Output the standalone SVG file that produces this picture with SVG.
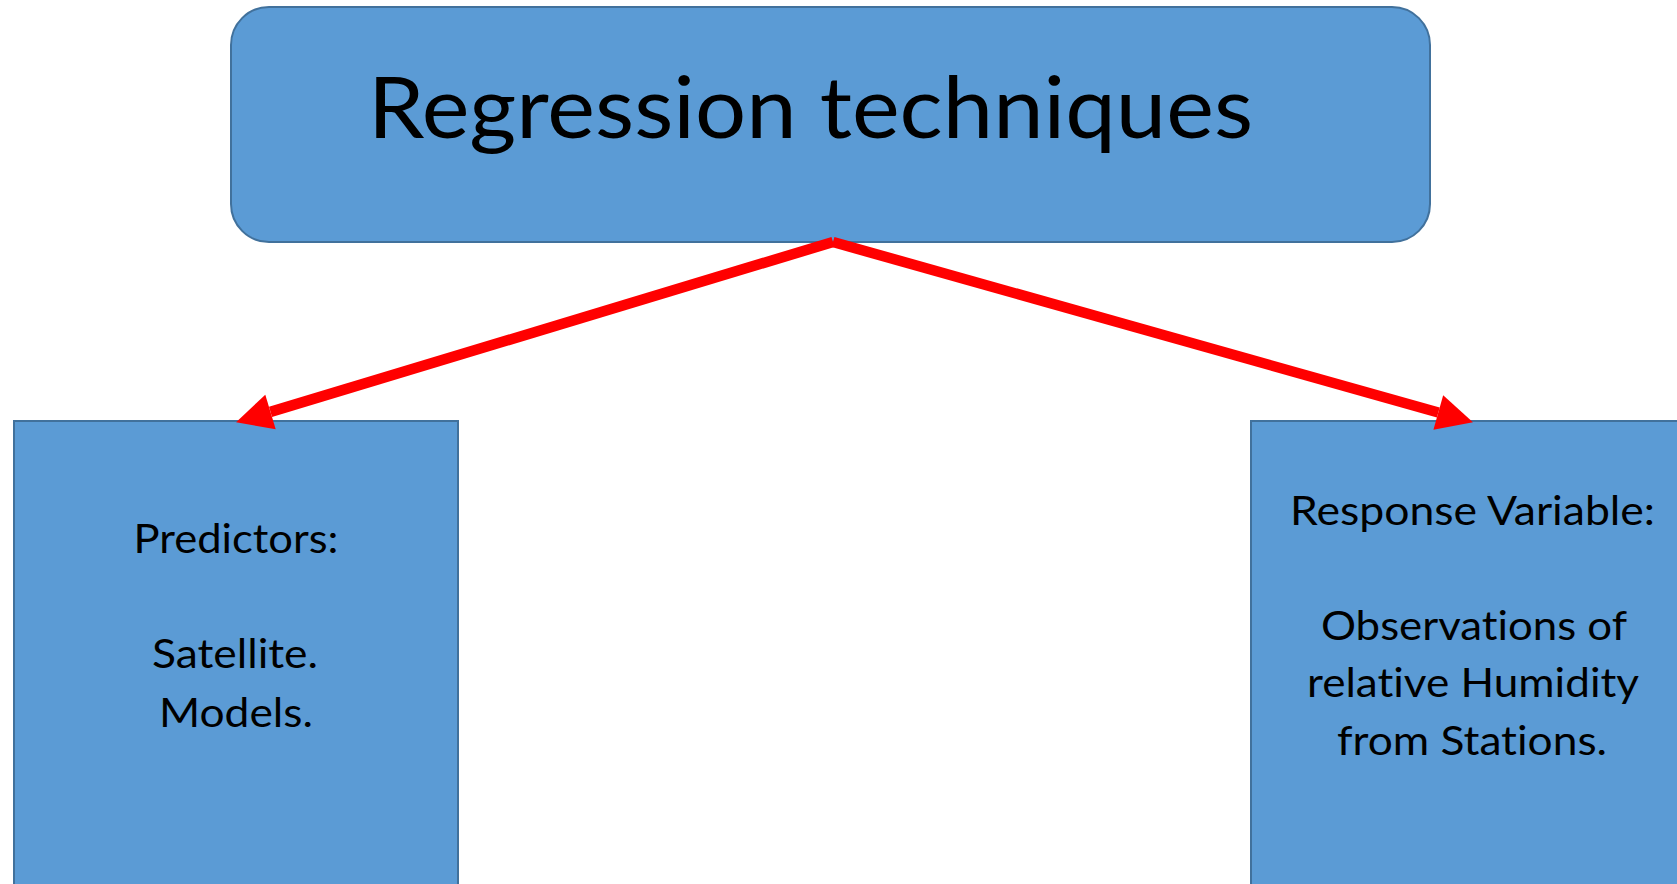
<svg xmlns="http://www.w3.org/2000/svg" width="1677" height="884" viewBox="0 0 1677 884">
  <style>
    .box { fill: #5B9BD5; stroke: #41719C; stroke-width: 2; }
    .lbl { font-family: Lato, "Open Sans", "Liberation Sans", sans-serif; fill: #000; text-anchor: middle; font-variant-ligatures: none; }
    .title { font-size: 85px; }
    .small { font-size: 40.5px; }
    .conn { stroke: #FF0000; stroke-width: 10.5; fill: none; marker-end: url(#head); }
  </style>
  <defs>
    <marker id="head" markerUnits="userSpaceOnUse" markerWidth="36" markerHeight="36" refX="0" refY="17.5" viewBox="0 0 35 35" orient="auto" overflow="visible">
      <path d="M0,0 L35,17.5 L0,35 Z" fill="#FF0000"/>
    </marker>
  </defs>
  <rect x="0" y="0" width="1677" height="884" fill="#FFFFFF"/>
  <g id="node-regression">
    <rect class="box" x="231" y="7" width="1199" height="235" rx="38" ry="38"/>
    <text class="lbl title" x="810.5" y="138" textLength="885" lengthAdjust="spacingAndGlyphs">Regression techniques</text>
  </g>
  <g id="node-predictors">
    <rect class="box" x="14" y="421" width="444" height="480"/>
    <text class="lbl small" x="236" y="553" textLength="205" lengthAdjust="spacingAndGlyphs">Predictors:</text>
    <text class="lbl small" x="235" y="668" textLength="166" lengthAdjust="spacingAndGlyphs">Satellite.</text>
    <text class="lbl small" x="236" y="727" textLength="154" lengthAdjust="spacingAndGlyphs">Models.</text>
  </g>
  <g id="node-response">
    <rect class="box" x="1251" y="421" width="460" height="480"/>
    <text class="lbl small" x="1472.5" y="525" textLength="365" lengthAdjust="spacingAndGlyphs">Response Variable:</text>
    <text class="lbl small" x="1474" y="640" textLength="306" lengthAdjust="spacingAndGlyphs">Observations of</text>
    <text class="lbl small" x="1473" y="697" textLength="332" lengthAdjust="spacingAndGlyphs">relative Humidity</text>
    <text class="lbl small" x="1472" y="755" textLength="270" lengthAdjust="spacingAndGlyphs">from Stations.</text>
  </g>
  <g id="connectors">
    <line class="conn" x1="833" y1="242" x2="270.5" y2="411.9"/>
    <line class="conn" x1="833" y1="242" x2="1438.3" y2="412.5"/>
  </g>
</svg>
